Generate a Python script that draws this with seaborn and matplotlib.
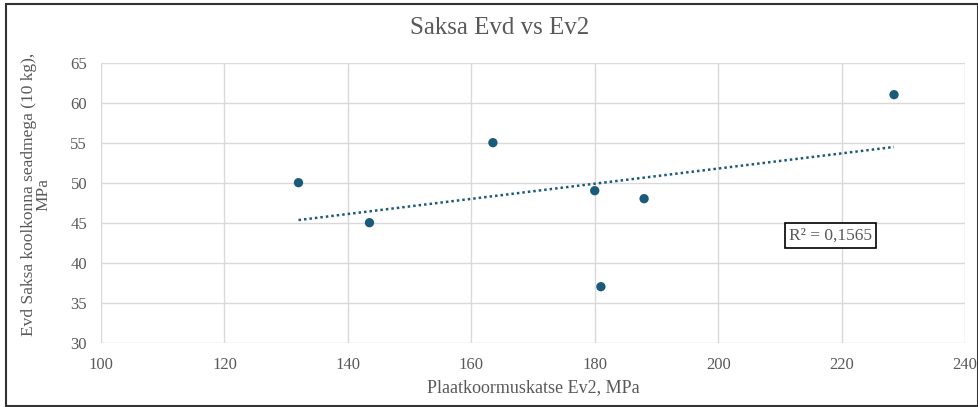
import matplotlib
matplotlib.use("Agg")
import matplotlib.pyplot as plt
import seaborn as sns
import pandas as pd
import numpy as np
from matplotlib.patches import Rectangle

# Data
ev2 = [132, 143.5, 163.5, 180, 188, 181, 228.5]
evd = [50, 45, 55, 49, 48, 37, 61]
x_ticks = [100, 120, 140, 160, 180, 200, 220, 240]
y_ticks = [30, 35, 40, 45, 50, 55, 60, 65]
title = "Saksa Evd vs Ev2"
x_label = "Plaatkoormuskatse Ev2, MPa"
y_label = "Evd Saksa koolkonna seadmega (10 kg),\nMPa"
r2_label = "R² = 0,1565"

df = pd.DataFrame({"Ev2": ev2, "Evd": evd})

sns.set_theme(style="white")
plt.rcParams['font.family'] = ['Liberation Serif', 'DejaVu Serif']

text_color = "#595959"
point_color = "#1b5b7a"

fig = plt.figure(figsize=(9.79, 4.07), dpi=100)
ax = fig.add_axes([0.1032, 0.158, 0.8825, 0.688])

sns.regplot(data=df, x="Ev2", y="Evd", ax=ax, ci=None, scatter=False,
            line_kws=dict(color=point_color, linestyle=(0, (1, 1.2)), linewidth=1.8))
sns.scatterplot(data=df, x="Ev2", y="Evd", ax=ax, color=point_color, s=45,
                edgecolor="none", zorder=5)

ax.set_xlim(100, 240)
ax.set_ylim(30, 65)
ax.set_xticks(x_ticks)
ax.set_yticks(y_ticks)
ax.grid(True, color="#d9d9d9", linewidth=1)
for s in ax.spines.values():
    s.set_visible(False)
ax.tick_params(axis="both", length=0, labelsize=12, colors=text_color, pad=10)
ax.set_xlabel(x_label, fontsize=13, color=text_color, labelpad=5)
ax.set_ylabel("")

fig.text(36 / 979, 1 - 194 / 407, y_label, rotation=90, fontsize=12.5, color=text_color,
         ha="center", va="center", multialignment="center", linespacing=0.9)

ax.text(218.2, 43.4, r2_label, fontsize=12.5, color=text_color, ha="center", va="center",
        bbox=dict(boxstyle="square,pad=0.25", facecolor="white", edgecolor="black", linewidth=1.2),
        zorder=6)

fig.text(500 / 979, 1 - 28 / 407, title, fontsize=18, color=text_color, ha="center", va="center")

fig.patches.append(Rectangle((6 / 979, 1 / 407), 972 / 979, 402 / 407, transform=fig.transFigure,
                             fill=False, edgecolor="#333333", linewidth=1.5))

fig.savefig("out.png", dpi=100)
